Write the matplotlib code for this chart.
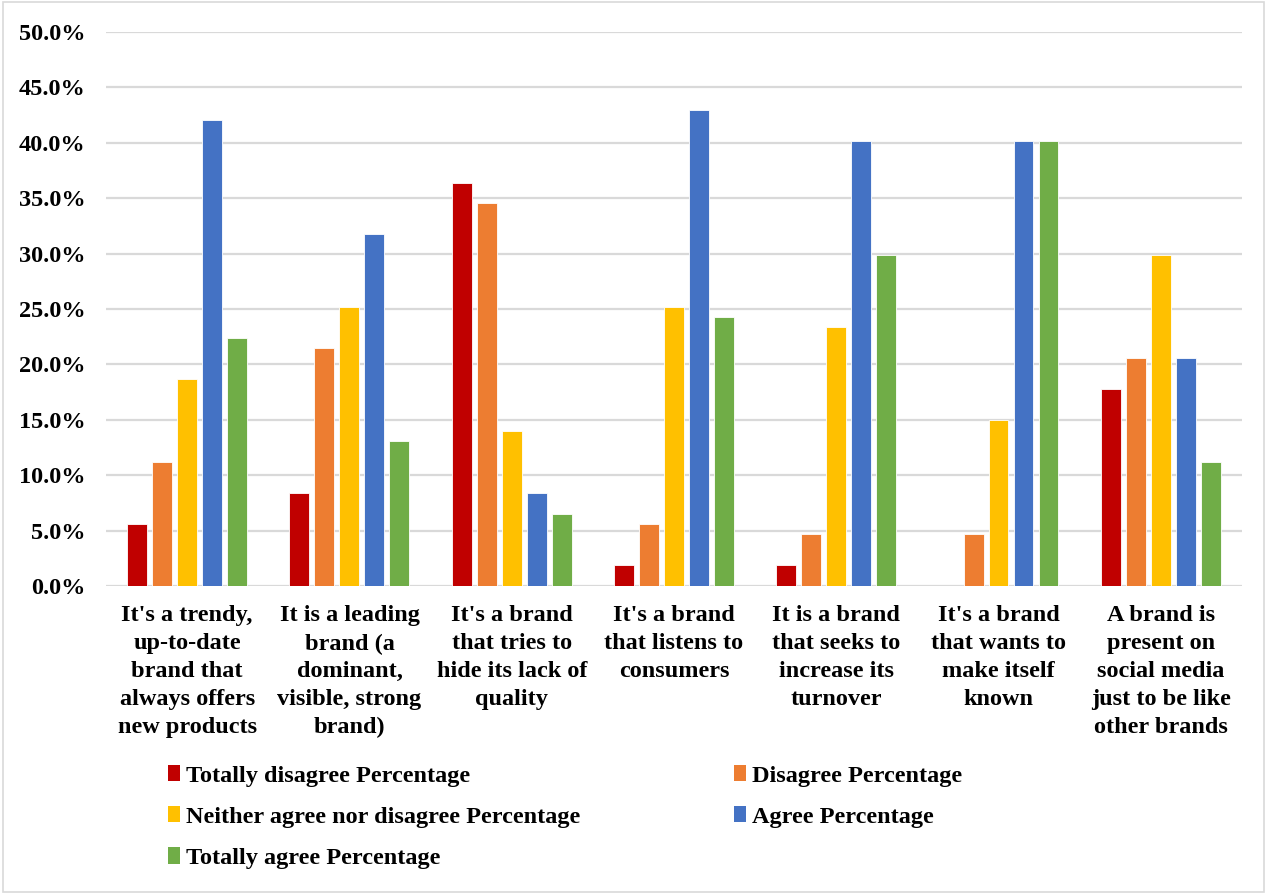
import numpy as np
import matplotlib.pyplot as plt
from matplotlib.patches import Patch, Rectangle
from matplotlib.ticker import FuncFormatter

plt.rcParams['font.family'] = ['Liberation Serif', 'DejaVu Serif']
plt.rcParams['font.weight'] = 'bold'

statements = [
    "It's a trendy,\nup-to-date\nbrand that\nalways offers\nnew products",
    "It is a leading\nbrand (a\ndominant,\nvisible, strong\nbrand)",
    "It's a brand\nthat tries to\nhide its lack of\nquality",
    "It's a brand\nthat listens to\nconsumers",
    "It is a brand\nthat seeks to\nincrease its\nturnover",
    "It's a brand\nthat wants to\nmake itself\nknown",
    "A brand is\npresent on\nsocial media\njust to be like\nother brands",
]

series_names = [
    "Totally disagree Percentage",
    "Disagree Percentage",
    "Neither agree nor disagree Percentage",
    "Agree Percentage",
    "Totally agree Percentage",
]
totally_disagree = [5.6, 8.4, 36.4, 1.9, 1.9, 0.0, 17.8]
disagree = [11.2, 21.5, 34.6, 5.6, 4.7, 4.7, 20.6]
neither = [18.7, 25.2, 14.0, 25.2, 23.4, 15.0, 29.9]
agree = [42.1, 31.8, 8.4, 43.0, 40.2, 40.2, 20.6]
totally_agree = [22.4, 13.1, 6.5, 24.3, 29.9, 40.2, 11.2]

colors = ['#c00000', '#ed7d31', '#ffc000', '#4472c4', '#70ad47']
series = [totally_disagree, disagree, neither, agree, totally_agree]

FS = 17.5

fig = plt.figure(figsize=(12.67, 8.94), dpi=100)
ax = fig.add_axes([0.0837, 0.3445, 0.8965, 0.6197])

x = np.arange(len(statements))
step = 0.154
width = 0.123
for i, (vals, col) in enumerate(zip(series, colors)):
    ax.bar(x + (i - 2) * step, vals, width, color=col, edgecolor='white',
           linewidth=0.6, zorder=3)

ax.set_xlim(-0.5, len(statements) - 0.5)
ax.set_ylim(0, 50)
ax.set_yticks(np.arange(0, 50.1, 5))
ax.yaxis.set_major_formatter(FuncFormatter(lambda v, p: f"{v:.1f}%"))
ax.grid(axis='y', color='#d9d9d9', linewidth=1.6, zorder=0)
for s in ax.spines.values():
    s.set_visible(False)
ax.tick_params(axis='both', length=0, labelsize=FS)
ax.tick_params(axis='y', pad=15)
ax.tick_params(axis='x', pad=14)
ax.set_xticks(x)
ax.set_xticklabels(statements, fontsize=FS, fontweight='bold', va='top',
                   linespacing=1.43)

# legend laid out row by row: matplotlib fills columns first
order = [0, 2, 4, 1, 3]
handles = [Patch(facecolor=colors[k], edgecolor='none') for k in order]
labels = [series_names[k] for k in order]
fig.legend(handles, labels, ncol=2, loc='upper left',
           bbox_to_anchor=(0.125, 0.155), bbox_transform=fig.transFigure,
           frameon=False, fontsize=FS, handlelength=0.5, handleheight=0.65,
           handletextpad=0.25, columnspacing=6.3, labelspacing=0.8,
           borderaxespad=0)

fig.patches.append(Rectangle((0.002, 0.002), 0.996, 0.996, transform=fig.transFigure,
                             fill=False, edgecolor='#d9d9d9', linewidth=1.2))

fig.savefig('out.png', dpi=100)
